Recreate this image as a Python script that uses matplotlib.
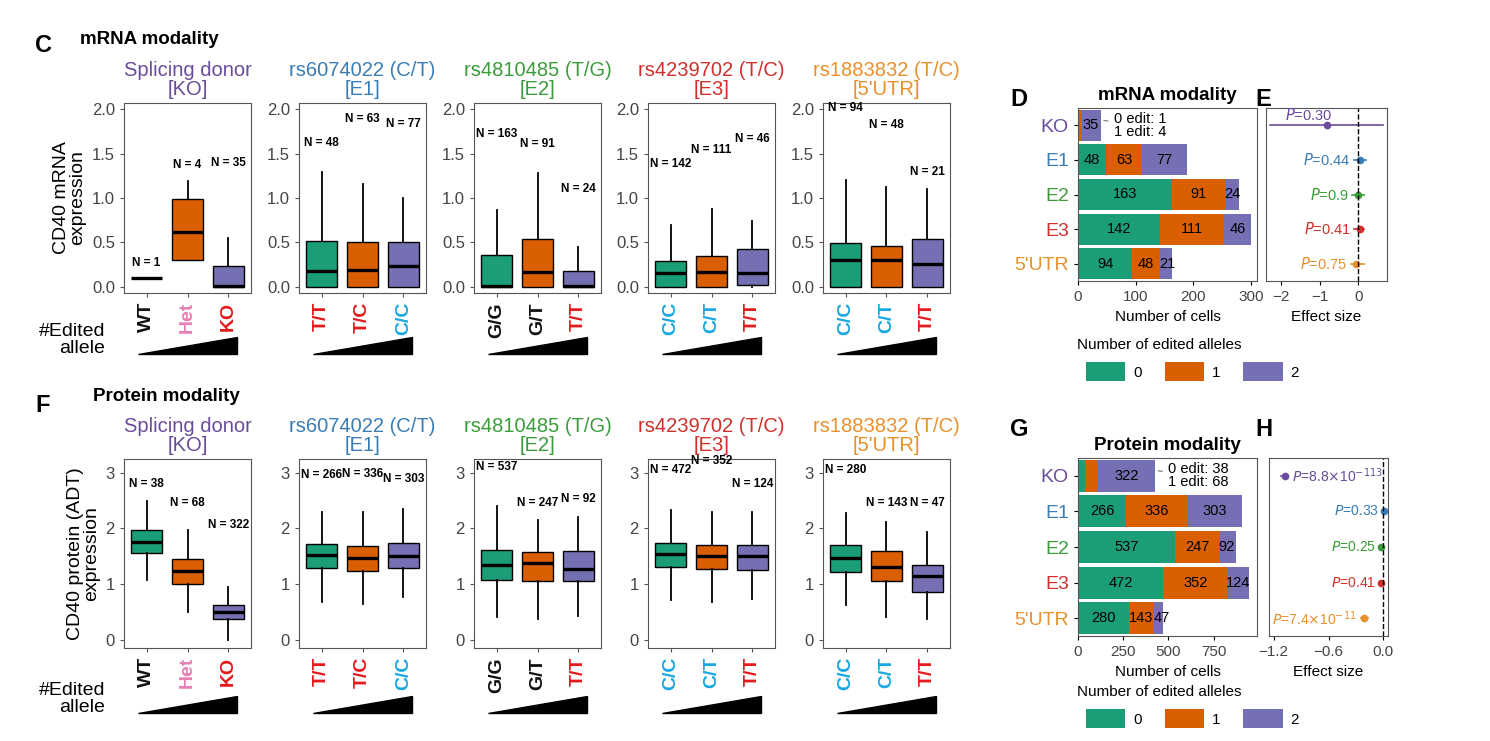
import matplotlib
matplotlib.use("Agg")
import matplotlib.pyplot as plt
from matplotlib.patches import Polygon, Patch
import numpy as np

plt.rcParams['font.family'] = ['Liberation Sans', 'DejaVu Sans']

W, H = 1490, 741
fig = plt.figure(figsize=(14.9, 7.41), dpi=100)
fig.patch.set_facecolor('white')

def ax_px(x0, y0, x1, y1):
    return fig.add_axes([x0 / W, 1 - y1 / H, (x1 - x0) / W, (y1 - y0) / H])

GREEN, ORANGE, PURPLE = '#1b9e77', '#d95f02', '#7570b3'
BOXCOL = [GREEN, ORANGE, PURPLE]
RED, CYAN, PINK, BLK = '#e41a1c', '#1aa7e0', '#e77fb3', '#111111'

groups = ['KO', 'E1', 'E2', 'E3', "5'UTR"]
group_colors = ['#6a4c9c', '#3a7db5', '#3c9c3c', '#d0302b', '#e8902c']
titles = ['Splicing donor\n[KO]', 'rs6074022 (C/T)\n[E1]', 'rs4810485 (T/G)\n[E2]',
          'rs4239702 (T/C)\n[E3]', "rs1883832 (T/C)\n[5'UTR]"]
genotypes = [['WT', 'Het', 'KO'], ['T/T', 'T/C', 'C/C'], ['G/G', 'G/T', 'T/T'],
             ['C/C', 'C/T', 'T/T'], ['C/C', 'C/T', 'T/T']]
geno_colors = [[BLK, PINK, RED], [RED, RED, CYAN], [BLK, BLK, RED],
               [CYAN, CYAN, RED], [CYAN, CYAN, RED]]

# box stats: (whislo, q1, med, q3, whishi)
mrna_stats = [
    [(0.1, 0.1, 0.1, 0.1, 0.1), (0.3, 0.3, 0.62, 0.99, 1.19), (0, 0, 0.01, 0.23, 0.55)],
    [(0, 0, 0.18, 0.52, 1.29), (0, 0, 0.19, 0.51, 1.16), (0, 0, 0.23, 0.51, 1.0)],
    [(0, 0, 0.01, 0.36, 0.86), (0, 0, 0.17, 0.54, 1.28), (0, 0, 0.01, 0.18, 0.45)],
    [(0, 0, 0.15, 0.29, 0.70), (0, 0, 0.17, 0.35, 0.88), (0, 0.02, 0.15, 0.42, 0.74)],
    [(0, 0, 0.30, 0.49, 1.20), (0, 0, 0.30, 0.46, 1.12), (0, 0, 0.26, 0.54, 1.10)],
]
mrna_n = [[1, 4, 35], [48, 63, 77], [163, 91, 24], [142, 111, 46], [94, 48, 21]]
mrna_n_y = [[0.2, 1.3, 1.33], [1.55, 1.82, 1.77], [1.65, 1.54, 1.03],
            [1.32, 1.47, 1.6], [1.95, 1.75, 1.22]]

prot_stats = [
    [(1.07, 1.56, 1.76, 1.97, 2.5), (0.5, 1.01, 1.24, 1.45, 1.97), (0, 0.37, 0.5, 0.62, 0.95)],
    [(0.68, 1.29, 1.52, 1.72, 2.3), (0.65, 1.23, 1.47, 1.68, 2.3), (0.76, 1.29, 1.5, 1.74, 2.35)],
    [(0.4, 1.08, 1.35, 1.62, 2.4), (0.37, 1.05, 1.38, 1.57, 2.15), (0.43, 1.05, 1.27, 1.59, 2.2)],
    [(0.72, 1.31, 1.54, 1.74, 2.33), (0.67, 1.28, 1.5, 1.71, 2.3), (0.73, 1.26, 1.5, 1.7, 2.3)],
    [(0.63, 1.22, 1.47, 1.7, 2.28), (0.4, 1.05, 1.3, 1.59, 2.12), (0.38, 0.86, 1.15, 1.34, 1.93)],
]
prot_n = [[38, 68, 322], [266, 336, 303], [537, 247, 92], [472, 352, 124], [280, 143, 47]]
prot_n_y = [[2.7, 2.35, 1.95], [2.85, 2.88, 2.78], [3.0, 2.35, 2.42],
            [2.95, 3.1, 2.7], [2.95, 2.35, 2.35]]

# bar counts by number of edited alleles (0, 1, 2)
mrna_counts = [[1, 4, 35], [48, 63, 77], [163, 91, 24], [142, 111, 46], [94, 48, 21]]
prot_counts = [[38, 68, 322], [266, 336, 303], [537, 247, 92], [472, 352, 124], [280, 143, 47]]

mrna_eff = [-0.82, 0.05, 0.0, 0.05, -0.05]
mrna_lo = [-2.3, -0.1, -0.15, -0.1, -0.2]
mrna_hi = [0.65, 0.2, 0.15, 0.15, 0.15]
mrna_p = ['0.30', '0.44', '0.9', '0.41', '0.75']
prot_eff = [-1.08, 0.01, -0.03, -0.03, -0.21]
prot_lo = [-1.12, -0.005, -0.045, -0.045, -0.25]
prot_hi = [-1.04, 0.025, -0.015, -0.015, -0.17]
prot_p = [r'8.8$\times$10$^{-113}$', '0.33', '0.25', '0.41', r'7.4$\times$10$^{-11}$']

panel_x = [(124, 251), (299, 426), (474, 601), (648, 775), (823, 950)]


def box_row(y0, y1, stats, ns, nys, ylim, yticks, yticklabels, ylabel, tri_y, hide_first):
    for i, (x0, x1) in enumerate(panel_x):
        ax = ax_px(x0, y0, x1, y1)
        bx = [dict(whislo=s[0], q1=s[1], med=s[2], q3=s[3], whishi=s[4], fliers=[])
              for s in stats[i]]
        res = ax.bxp(bx, positions=[1, 2, 3], widths=0.75, patch_artist=True,
                     showcaps=False,
                     medianprops=dict(color='black', lw=2.4),
                     whiskerprops=dict(color='black', lw=1.3),
                     boxprops=dict(lw=1.0))
        for b, c in zip(res['boxes'], BOXCOL):
            b.set_facecolor(c)
            b.set_edgecolor('black')
        if i == 0 and hide_first:
            res['boxes'][0].set_visible(False)
        for k in range(3):
            ax.text(k + 1, nys[i][k], f'N = {ns[i][k]}', ha='center', va='bottom',
                    fontsize=8.5, fontweight='bold')
        ax.set_xlim(0.45, 3.55)
        ax.set_ylim(*ylim)
        ax.set_yticks(yticks)
        ax.set_yticklabels(yticklabels, fontsize=12, color='#444444')
        ax.set_xticks([1, 2, 3])
        ax.set_xticklabels(genotypes[i], rotation=90, fontsize=14, fontweight='bold')
        for t, c in zip(ax.get_xticklabels(), geno_colors[i]):
            t.set_color(c)
        for s in ax.spines.values():
            s.set_color('#555555')
        ax.tick_params(length=3, color='#555555')
        ax.set_title(titles[i], color=group_colors[i], fontsize=14.5, pad=6, linespacing=0.95)
        if i == 0:
            ax.set_ylabel(ylabel, fontsize=14, linespacing=0.95)
        tri = Polygon([[(x0 + 14) / W, 1 - tri_y / H], [(x1 - 14) / W, 1 - tri_y / H],
                       [(x1 - 14) / W, 1 - (tri_y - 17) / H]], closed=True,
                      transform=fig.transFigure, color='black')
        fig.patches.append(tri)
    fig.text(105 / W, 1 - (tri_y - 14) / H, '#Edited\nallele', ha='right', va='center',
             fontsize=14, linespacing=0.95)


box_row(103, 293, mrna_stats, mrna_n, mrna_n_y, (-0.07, 2.07), [0, 0.5, 1.0, 1.5, 2.0],
        ['0.0', '0.5', '1.0', '1.5', '2.0'], 'CD40 mRNA\nexpression', 354, True)
box_row(459, 648, prot_stats, prot_n, prot_n_y, (-0.15, 3.25), [0, 1, 2, 3],
        ['0', '1', '2', '3'], 'CD40 protein (ADT)\nexpression', 713, False)


def bar_panel(y0, y1, counts, xlim, xticks, title, note, legend_y):
    ax = ax_px(1078, y0, 1257, y1)
    ypos = np.arange(len(groups))[::-1]
    counts = np.array(counts)
    left = np.zeros(len(groups))
    for k in range(3):
        ax.barh(ypos, counts[:, k], left=left, height=0.9, color=BOXCOL[k])
        for j in range(len(groups)):
            if j == 0 and k < 2:
                continue
            if counts[j, k] < 0.1 * xlim[1] and j > 0:
                ax.text(left[j] - xlim[1] * 0.005, ypos[j], str(counts[j, k]),
                        ha='left', va='center', fontsize=10.5)
            else:
                ax.text(left[j] + counts[j, k] / 2, ypos[j], str(counts[j, k]),
                        ha='center', va='center', fontsize=10.5)
        left += counts[:, k]
    ax.set_ylim(-0.5, 4.5)
    ax.set_xlim(*xlim)
    ax.set_xticks(xticks)
    ax.tick_params(labelsize=11, labelcolor='#444444', length=3)
    ax.set_yticks(ypos)
    ax.set_yticklabels(groups, fontsize=14)
    for t, c in zip(ax.get_yticklabels(), group_colors):
        t.set_color(c)
    ax.set_xlabel('Number of cells', fontsize=11)
    ax.set_title(title, fontsize=13.5, fontweight='bold', pad=6)
    for s in ax.spines.values():
        s.set_color('#555555')
    ax.annotate(note, xy=(left[0], ypos[0] + 0.15), xytext=(left[0] + xlim[1] * 0.07, ypos[0]),
                fontsize=10.5, va='center', linespacing=0.9,
                arrowprops=dict(arrowstyle='-', color='#777777', lw=0.8))
    handles = [Patch(facecolor=c, label=str(k)) for k, c in enumerate(BOXCOL)]
    fig.text(1077 / W, 1 - legend_y / H, 'Number of edited alleles', fontsize=11, va='center')
    fig.legend(handles=handles, loc='upper left', ncol=3, frameon=False,
               bbox_to_anchor=(1072 / W, 1 - (legend_y + 3) / H), fontsize=11,
               handlelength=2.6, handleheight=1.6, columnspacing=1.5, handletextpad=0.5)


def eff_panel(y0, y1, x0, x1, eff, lo, hi, pvals, xlim, xticks, xticklabels, text_pos, fs):
    ax = ax_px(x0, y0, x1, y1)
    ypos = np.arange(len(groups))[::-1]
    span = xlim[1] - xlim[0]
    for j in range(len(groups)):
        ax.plot([lo[j], hi[j]], [ypos[j], ypos[j]], color=group_colors[j], lw=1.2)
        ax.plot(eff[j], ypos[j], 'o', color=group_colors[j], ms=4.5)
        lab = f'$P$={pvals[j]}'
        if text_pos[j] == 'left':
            ax.text(lo[j] - span * 0.03, ypos[j], lab, color=group_colors[j],
                    fontsize=fs, ha='right', va='center')
        elif text_pos[j] == 'right':
            ax.text(hi[j] + span * 0.03, ypos[j], lab, color=group_colors[j],
                    fontsize=fs, ha='left', va='center')
        else:
            ax.text(eff[j] - span * 0.15, ypos[j] + 0.08, lab, color=group_colors[j],
                    fontsize=fs, ha='center', va='bottom')
    ax.axvline(0, color='black', ls='--', lw=1)
    ax.set_xlim(*xlim)
    ax.set_ylim(-0.5, 4.5)
    ax.set_yticks([])
    ax.set_xticks(xticks)
    ax.set_xticklabels(xticklabels)
    ax.tick_params(labelsize=11, labelcolor='#444444', length=3)
    ax.set_xlabel('Effect size', fontsize=11)
    for s in ax.spines.values():
        s.set_color('#555555')


bar_panel(108, 281, mrna_counts, (0, 310), [0, 100, 200, 300], 'mRNA modality',
          '0 edit: 1\n1 edit: 4', 345)
bar_panel(458, 636, prot_counts, (0, 990), [0, 250, 500, 750], 'Protein modality',
          '0 edit: 38\n1 edit: 68', 692)

eff_panel(108, 281, 1266, 1387, mrna_eff, mrna_lo, mrna_hi, mrna_p, (-2.4, 0.75),
          [-2, -1, 0], ['\u22122', '\u22121', '0'], ['above', 'left', 'left', 'left', 'left'], 10.5)
eff_panel(458, 636, 1269, 1388, prot_eff, prot_lo, prot_hi, prot_p, (-1.25, 0.05),
          [-1.2, -0.6, 0.0], ['\u22121.2', '\u22120.6', '0.0'],
          ['right', 'left', 'left', 'left', 'left'], 10)

# panel letters and headers
for x, y, s in [(35, 45, 'C'), (35, 405, 'F'), (1010, 100, 'D'), (1255, 100, 'E'),
                (1010, 430, 'G'), (1255, 430, 'H')]:
    fig.text(x / W, 1 - y / H, s, fontsize=17, fontweight='bold', va='center')
fig.text(80 / W, 1 - 40 / H, 'mRNA modality', fontsize=13.5, fontweight='bold', va='center')
fig.text(93 / W, 1 - 396 / H, 'Protein modality', fontsize=13.5, fontweight='bold', va='center')

fig.savefig('out.png', dpi=100)
